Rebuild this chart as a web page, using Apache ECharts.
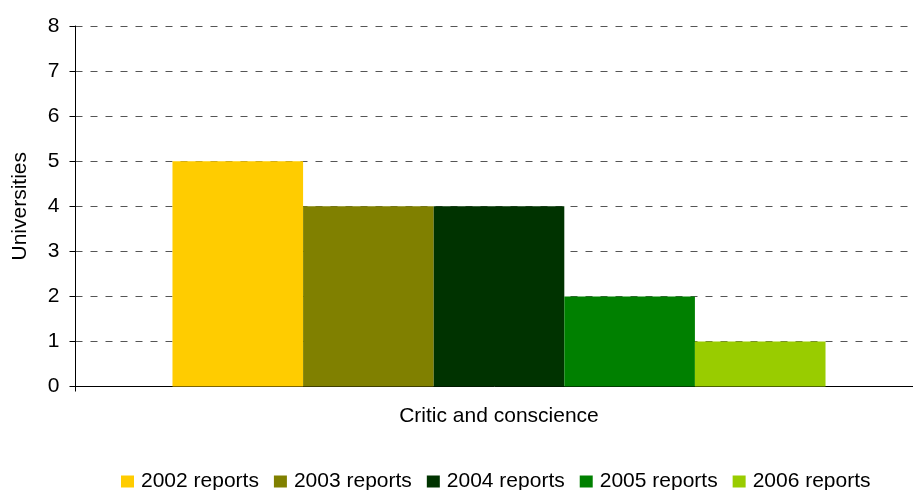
<!DOCTYPE html>
<html>
<head>
<meta charset="utf-8">
<script src="https://cdn.jsdelivr.net/npm/echarts@6/dist/echarts.min.js"></script>
<style>
  html, body { margin: 0; padding: 0; background: #fff; }
  #chart { width: 913px; height: 490px; }
</style>
</head>
<body>
<div id="chart"></div>
<script>
// Number of universities per report year, for a single category
const categories = ['Critic and conscience'];
const seriesNames = ['2002 reports', '2003 reports', '2004 reports', '2005 reports', '2006 reports'];
const seriesValues = [[5], [4], [4], [2], [1]];
const seriesColors = ['#FFCC00', '#808000', '#003300', '#008000', '#99CC00'];
const yTicks = { min: 0, max: 8, interval: 1 };

const FONT = '"Liberation Sans", Arial, sans-serif';

const chart = echarts.init(document.getElementById('chart'), null, { renderer: 'canvas' });

chart.setOption({
  animation: false,
  backgroundColor: '#ffffff',
  grid: {
    left: 75.5, top: 26, width: 847, height: 360.5,
    containLabel: false, outerBoundsMode: 'none'
  },
  legend: {
    data: seriesNames,
    left: 121,
    top: 471,
    padding: 0,
    itemWidth: 13,
    itemHeight: 12,
    itemGap: 15,
    icon: 'rect',
    textStyle: { fontFamily: FONT, fontSize: 21, color: '#000', padding: [0, 0, 0, 2] }
  },
  xAxis: {
    type: 'category',
    data: categories,
    axisLine: { lineStyle: { color: '#000', width: 1 } },
    axisTick: { show: true, length: 5, lineStyle: { color: '#000' } },
    axisLabel: { fontFamily: FONT, fontSize: 21, color: '#000', margin: 19 }
  },
  yAxis: {
    type: 'value',
    min: yTicks.min,
    max: yTicks.max,
    interval: yTicks.interval,
    name: 'Universities',
    nameLocation: 'middle',
    nameRotate: 90,
    nameGap: 45,
    nameTextStyle: { fontFamily: FONT, fontSize: 21, color: '#000' },
    axisLine: { show: true, lineStyle: { color: '#000', width: 1 } },
    axisTick: { show: true, inside: false, length: 6, lineStyle: { color: '#000' } },
    axisLabel: { fontFamily: FONT, fontSize: 21, color: '#000', margin: 16 },
    splitLine: { show: true, lineStyle: { color: '#555', type: [7, 8], width: 1 } }
  },
  series: seriesNames.map((name, i) => ({
    name,
    type: 'bar',
    data: seriesValues[i],
    barGap: '0%',
    barCategoryGap: '22.9%',
    itemStyle: { color: seriesColors[i] }
  }))
});
</script>
</body>
</html>
